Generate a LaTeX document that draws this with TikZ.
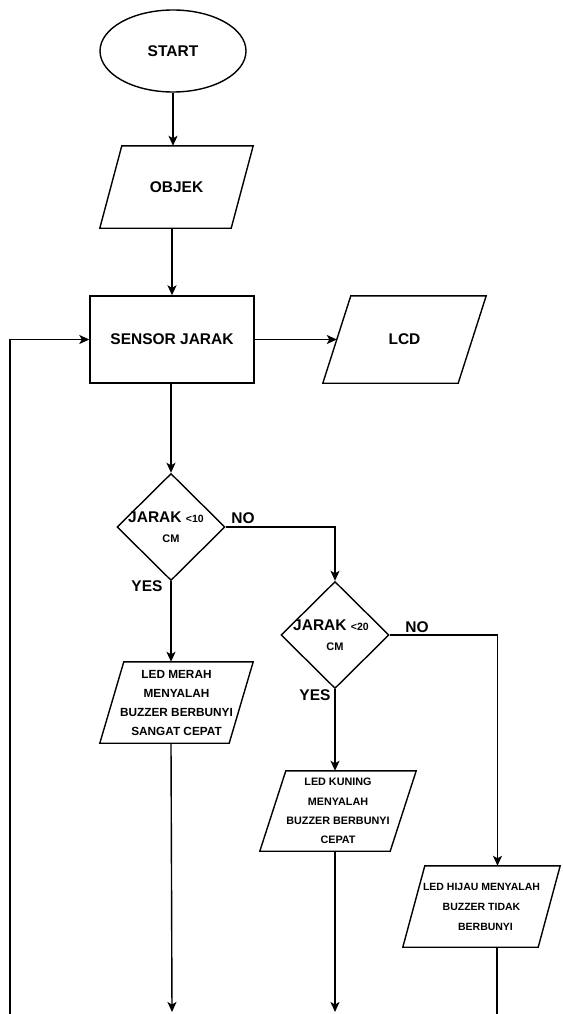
\documentclass[tikz,border=0pt]{standalone}
\usepackage{fontspec}
\setmainfont{Liberation Sans}
\usetikzlibrary{shapes.geometric,arrows.meta,calc}
\newcommand\pgram[2]{\draw[ln] ([xshift=#2pt]#1.north west) -- (#1.north east) -- ([xshift=-#2pt]#1.south east) -- (#1.south west) -- cycle;}
\tikzset{
  x=1pt, y=-1pt,
  ln/.style={line width=1.4pt},
  arr/.style={ln,-{Stealth[length=10pt,width=9pt,inset=2.5pt]}},
  big/.style={font=\bfseries\fontsize{15.5}{18}\selectfont},
  startbox/.style={draw,ln,ellipse,inner sep=0,minimum width=146pt,minimum height=82pt,big},
  procbox/.style={draw,ln,rectangle,inner sep=0,minimum width=164pt,minimum height=87pt,big},
  iobox/.style={inner sep=0,align=center},
  decbox/.style={draw,ln,diamond,inner sep=0,align=center,minimum width=108pt,minimum height=107pt,font=\bfseries\fontsize{15.5}{20}\selectfont},
  lbl/.style={inner sep=0,big},
}
\begin{document}
\begin{tikzpicture}
\useasboundingbox[fill=white] (0,0) rectangle (562,1014);

\node[startbox] (start) at (173,51) {START};
\node[iobox,big,minimum width=153pt,minimum height=82pt] (objek) at (176.5,187) {OBJEK};
\pgram{objek}{22}
\node[procbox] (sensor) at (172,339.5) {SENSOR JARAK};
\node[iobox,big,minimum width=163pt,minimum height=87pt] (lcd) at (404.5,339.5) {LCD};
\pgram{lcd}{28}

\node[decbox] (d1) at (171,527) {\hspace*{-10pt}JARAK {\fontsize{10.5}{12}\selectfont <10}\\{\fontsize{11}{12}\selectfont CM}};
\node[decbox] (d2) at (335,635) {\hspace*{-8pt}JARAK {\fontsize{10.5}{12}\selectfont <20}\\{\fontsize{11}{12}\selectfont CM}};

\node[iobox,font=\bfseries\fontsize{11.8}{19}\selectfont,minimum width=153pt,minimum height=81pt] (merah) at (176.5,702.5) {LED MERAH\\MENYALAH\\BUZZER BERBUNYI\\SANGAT CEPAT};
\pgram{merah}{24}
\node[iobox,font=\bfseries\fontsize{10.8}{19.3}\selectfont,minimum width=156pt,minimum height=80pt] (kuning) at (338,811) {LED KUNING\\MENYALAH\\BUZZER BERBUNYI\\CEPAT};
\pgram{kuning}{26}
\node[iobox,font=\bfseries\fontsize{10.5}{20}\selectfont,minimum width=157pt,minimum height=81pt] (hijau) at (481.5,906.5) {LED HIJAU MENYALAH\\BUZZER TIDAK\\\hspace*{8pt}BERBUNYI};
\pgram{hijau}{22}

\node[lbl] (no1) at (243,518) {NO};
\node[lbl] (yes1) at (147,586) {YES};
\node[lbl] (no2) at (417,627) {NO};
\node[lbl] (yes2) at (315,695) {YES};

\coordinate (e1) at (172,1012);
\coordinate (e2) at (335,1012);
\coordinate (e3) at (497,1014);
\coordinate (lp) at (10,1014);

\draw[arr] (start.south) -- (start.south |- objek.north);
\draw[arr] (objek.south -| sensor.north) -- (sensor.north);
\draw[arr] (sensor.east) -- ([xshift=14pt]lcd.west);
\draw[arr] (sensor.south) -- (sensor.south -| d1.north) -- (d1.north);
\draw[arr] (d1.east) -| (d2.north);
\draw[arr] (d1.south) -- (d1.south |- merah.north);
\draw[arr] (d2.south) -- (d2.south |- kuning.north);
\draw[arr] (d2.east) -| ([xshift=16pt]hijau.north);
\draw[arr] (d1.south |- merah.south) -- (e1);
\draw[arr] (d2.south |- kuning.south) -- (e2);
\draw[ln] (e3 |- hijau.south) -- (e3);
\draw[arr] (lp) |- (sensor.west);
\end{tikzpicture}
\end{document}
